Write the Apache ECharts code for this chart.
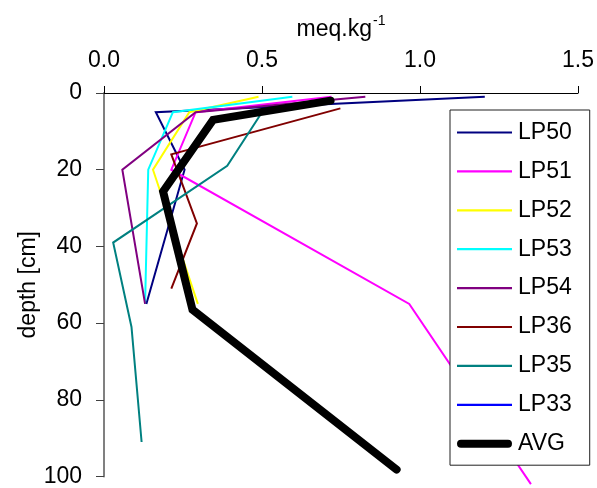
<!DOCTYPE html>
<html>
<head>
<meta charset="utf-8">
<script src="https://cdn.jsdelivr.net/npm/echarts@6/dist/echarts.min.js"></script>
<style>
  html, body { margin: 0; padding: 0; background: #fff; }
  #chart { width: 597px; height: 488px; }
</style>
</head>
<body>
<div id="chart"></div>
<script>
// Concentration (meq/kg) against depth (cm) for each profile
const depthLP50 = [1, 5, 20, 55];
const valLP50   = [1.205, 0.164, 0.255, 0.134];

const depthLP51 = [1, 5, 20, 55, 102];
const valLP51   = [0.72, 0.29, 0.213, 0.966, 1.351];

const depthLP52 = [1, 5, 20, 55];
const valLP52   = [0.489, 0.27, 0.155, 0.297];

const depthLP53 = [1, 5, 20, 55];
const valLP53   = [0.596, 0.218, 0.14, 0.13];

const depthLP54 = [1, 5, 20, 55];
const valLP54   = [0.827, 0.29, 0.058, 0.13];

const depthLP36 = [4, 16, 34, 51];
const valLP36   = [0.748, 0.213, 0.294, 0.213];

const depthLP35 = [5, 19, 39, 61, 91];
const valLP35   = [0.5, 0.39, 0.029, 0.087, 0.119];

const depthLP33 = [];
const valLP33   = [];

const depthAVG = [2, 7, 25.7, 56.5, 98.2];
const valAVG   = [0.717, 0.345, 0.187, 0.28, 0.926];

const xTicks = [0, 0.5, 1.0, 1.5];
const yTicks = [0, 20, 40, 60, 80, 100];

const FONT = "'Liberation Sans', Arial, sans-serif";

// legend keys: plain strokes, and a thick rounded one for the average
const THIN_KEY = 'path://M0,0H55V2.2H0Z';
const THICK_KEY = 'path://M4,0H51A4,4 0 0 1 51,8H4A4,4 0 0 1 4,0Z';

function pairs(xs, ds) {
  return xs.map((v, i) => [v, ds[i]]);
}

const profiles = [
  { name: 'LP50', x: valLP50, d: depthLP50, color: '#000080', width: 2 },
  { name: 'LP51', x: valLP51, d: depthLP51, color: '#ff00ff', width: 2 },
  { name: 'LP52', x: valLP52, d: depthLP52, color: '#ffff00', width: 2 },
  { name: 'LP53', x: valLP53, d: depthLP53, color: '#00ffff', width: 2 },
  { name: 'LP54', x: valLP54, d: depthLP54, color: '#800080', width: 2 },
  { name: 'LP36', x: valLP36, d: depthLP36, color: '#800000', width: 2 },
  { name: 'LP35', x: valLP35, d: depthLP35, color: '#008080', width: 2 },
  { name: 'LP33', x: valLP33, d: depthLP33, color: '#0000ff', width: 2 },
  { name: 'AVG',  x: valAVG,  d: depthAVG,  color: '#000000', width: 8 }
];

const chart = echarts.init(document.getElementById('chart'), null, { renderer: 'canvas' });

chart.setOption({
  animation: false,
  backgroundColor: '#fff',
  textStyle: { fontFamily: FONT },
  grid: { left: 104, top: 93, right: 17, bottom: 11, containLabel: false },
  xAxis: {
    type: 'value',
    position: 'top',
    min: xTicks[0],
    max: xTicks[xTicks.length - 1],
    interval: 0.5,
    name: '{a|meq.kg}{b|-1}',
    nameLocation: 'middle',
    nameGap: 47,
    nameMoveOverlap: false,
    nameTextStyle: {
      rich: {
        a: { fontSize: 23, fontFamily: FONT, color: '#000' },
        b: { fontSize: 14, fontFamily: FONT, color: '#000', padding: [0, 0, 18, 1] }
      }
    },
    axisLine: { show: true, lineStyle: { color: '#000', width: 1 } },
    axisTick: { show: true, inside: false, length: 7, lineStyle: { color: '#000' } },
    axisLabel: {
      margin: 21,
      fontSize: 23,
      color: '#000',
      fontFamily: FONT,
      formatter: v => v.toFixed(1)
    },
    splitLine: { show: false }
  },
  yAxis: {
    type: 'value',
    inverse: true,
    min: yTicks[0],
    max: yTicks[yTicks.length - 1],
    interval: 20,
    name: 'depth [cm]',
    nameLocation: 'middle',
    nameGap: 64,
    nameMoveOverlap: false,
    nameRotate: 90,
    nameTextStyle: { fontSize: 23, color: '#000', fontFamily: FONT },
    axisLine: { show: true, lineStyle: { color: '#808080', width: 2 } },
    axisTick: { show: true, inside: false, length: 8, lineStyle: { color: '#404040' } },
    axisLabel: { margin: 22, fontSize: 23, color: '#000', fontFamily: FONT },
    splitLine: { show: false }
  },
  legend: {
    orient: 'vertical',
    left: 450,
    top: 110,
    padding: [11, 18, 10, 7],
    itemGap: 15.9,
    itemWidth: 55,
    itemHeight: 24,
    symbolKeepAspect: true,
    backgroundColor: '#fff',
    borderColor: '#202020',
    borderWidth: 1,
    textStyle: { fontSize: 23, color: '#000', fontFamily: FONT, padding: [0, 0, 0, 1] },
    data: profiles.map(p => ({ name: p.name, icon: p.width > 4 ? THICK_KEY : THIN_KEY }))
  },
  series: profiles.map(p => ({
    name: p.name,
    type: 'line',
    data: pairs(p.x, p.d),
    symbol: 'none',
    showSymbol: false,
    clip: false,
    silent: true,
    color: p.color,
    itemStyle: { color: p.color },
    lineStyle: { color: p.color, width: p.width, cap: p.width > 4 ? 'round' : 'butt', join: 'miter' }
  }))
});
</script>
</body>
</html>
